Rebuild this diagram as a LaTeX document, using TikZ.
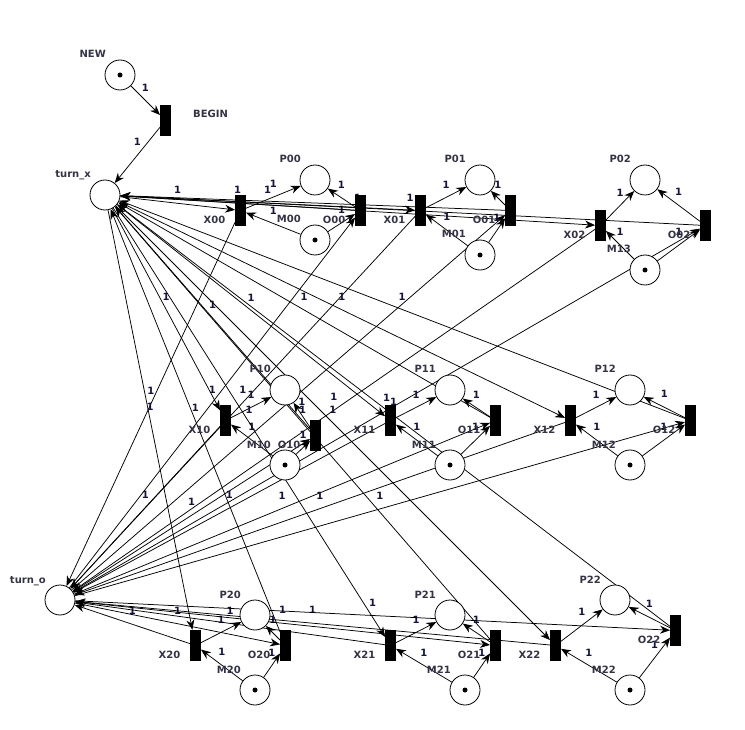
\documentclass[tikz,border=0pt]{standalone}
\usepackage{fontspec}
\setmainfont{DejaVu Sans}
\usetikzlibrary{arrows.meta,backgrounds}
\definecolor{nmcol}{HTML}{333344}
\definecolor{wcol}{HTML}{14143C}
\tikzset{
 place/.style={circle,draw=black,fill=white,line width=0.8pt,minimum size=30pt,inner sep=0pt},
 trans/.style={rectangle,fill=black,minimum width=10.5pt,minimum height=31pt,inner sep=0pt},
 tok/.style={circle,fill=black,minimum size=5pt,inner sep=0pt},
 nm/.style={font=\fontsize{10}{11}\selectfont\bfseries, text=nmcol, inner sep=0pt},
 arc/.style={-{Stealth[length=10pt,width=8pt]}, line width=0.75pt},
 wl/.style={midway, yshift=13pt, font=\fontsize{10}{11}\selectfont\bfseries, text=wcol, inner sep=0pt},
}
\newcommand{\mkplace}[4]{\node[place] (#1) at (#2,#3) {}; \node[nm,anchor=base east] (#1-l) at (#2-14,#3-17) {#4};}
\newcommand{\mktoken}[1]{\node[tok] (#1-t) at (#1) {};}
\newcommand{\mktrans}[4]{\node[trans] (#1) at (#2,#3) {}; \node[nm,anchor=base east] (#1-l) at (#2-15,#3+13) {#4};}
\begin{document}
\begin{tikzpicture}[x=1pt,y=-1pt]
\useasboundingbox (0,0) rectangle (745,730);
% places
\mkplace{NEW}{120}{75}{NEW}
\mkplace{turn_x}{105}{195}{turn\_x}
\mkplace{turn_o}{60}{600}{turn\_o}
\mkplace{P00}{315}{180}{P00}
\mkplace{M00}{315}{240}{M00}
\mkplace{P01}{480}{180}{P01}
\mkplace{M01}{480}{255}{M01}
\mkplace{P02}{645}{180}{P02}
\mkplace{M02}{645}{270}{M13}
\mkplace{P10}{285}{390}{P10}
\mkplace{M10}{285}{465}{M10}
\mkplace{P11}{450}{390}{P11}
\mkplace{M11}{450}{465}{M11}
\mkplace{P12}{630}{390}{P12}
\mkplace{M12}{630}{465}{M12}
\mkplace{P20}{255}{615}{P20}
\mkplace{M20}{255}{690}{M20}
\mkplace{P21}{450}{615}{P21}
\mkplace{M21}{465}{690}{M21}
\mkplace{P22}{615}{600}{P22}
\mkplace{M22}{630}{690}{M22}
% tokens
\mktoken{NEW}
\foreach \c in {00,01,02,10,11,12,20,21,22} {\mktoken{M\c}}
% transitions
\node[trans] (BEGIN) at (165.5,120.5) {};
\node[nm,anchor=base west] (BEGIN-l) at (193,118) {BEGIN};
\mktrans{X00}{240.5}{210.5}{X00}
\mktrans{O00}{360.5}{210.5}{O00}
\mktrans{X01}{420.5}{210.5}{X01}
\mktrans{O01}{510.5}{210.5}{O01}
\mktrans{X02}{600.5}{225.5}{X02}
\mktrans{O02}{705.5}{225.5}{O02}
\mktrans{X10}{225.5}{420.5}{X10}
\mktrans{O10}{315.5}{435.5}{O10}
\mktrans{X11}{390.5}{420.5}{X11}
\mktrans{O11}{495.5}{420.5}{O11}
\mktrans{X12}{570.5}{420.5}{X12}
\mktrans{O12}{690.5}{420.5}{O12}
\mktrans{X20}{195.5}{645.5}{X20}
\mktrans{O20}{285.5}{645.5}{O20}
\mktrans{X21}{390.5}{645.5}{X21}
\mktrans{O21}{495.5}{645.5}{O21}
\mktrans{X22}{555.5}{645.5}{X22}
\mktrans{O22}{675.5}{630.5}{O22}
% arcs
\begin{pgfonlayer}{background}
\draw[arc] (NEW) -- node[wl] (w-nb) {1} (BEGIN);
\draw[arc] (BEGIN) -- node[wl] (w-bt) {1} (turn_x);
\foreach \c in {00,01,02,10,11,12,20,21,22} {
 \draw[arc] (turn_x) -- node[wl] (wa\c) {1} (X\c);
 \draw[arc] (X\c) -- node[wl] (wb\c) {1} (turn_o);
 \draw[arc] (turn_o) -- node[wl] (wc\c) {1} (O\c);
 \draw[arc] (O\c) -- node[wl] (wd\c) {1} (turn_x);
 \draw[arc] (X\c) -- node[wl] (we\c) {1} (P\c);
 \draw[arc] (O\c) -- node[wl] (wf\c) {1} (P\c);
 \draw[arc] (M\c) -- node[wl] (wg\c) {1} (X\c);
 \draw[arc] (M\c) -- node[wl] (wh\c) {1} (O\c);
}
\end{pgfonlayer}
\end{tikzpicture}
\end{document}
